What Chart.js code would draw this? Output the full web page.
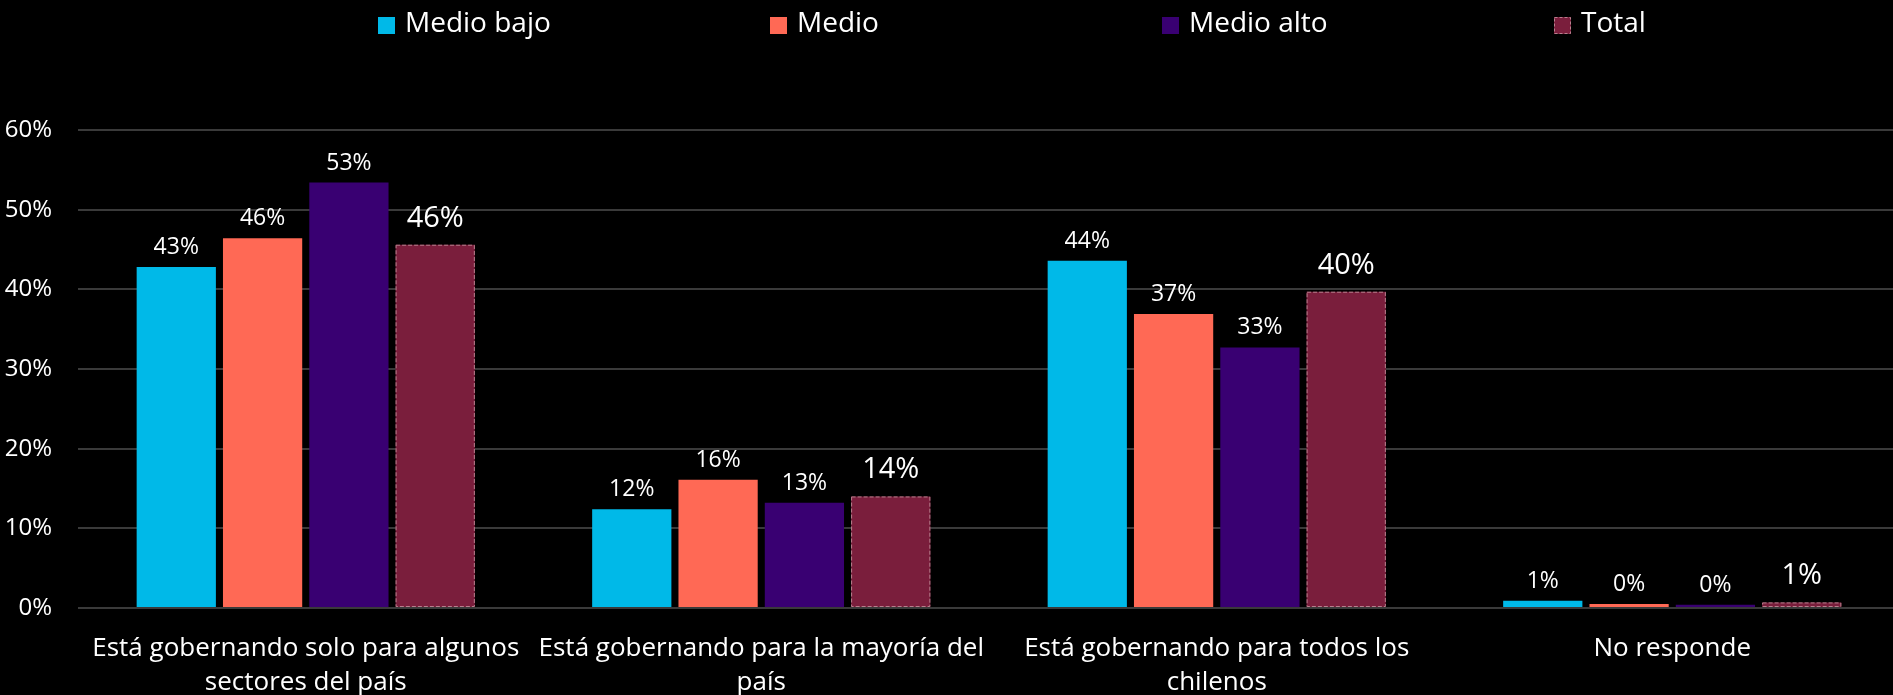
<!DOCTYPE html>
<html>
<head>
<meta charset="utf-8">
<script src="https://cdn.jsdelivr.net/npm/chart.js@4/dist/chart.umd.min.js"></script>
<style>
  html, body { margin: 0; padding: 0; background: #000; overflow: hidden; }
  #wrap { width: 1900px; height: 695px; }
</style>
</head>
<body>
<div id="wrap"><canvas id="chart"></canvas></div>
<script>
const categories = [
  ['Está gobernando solo para algunos', 'sectores del país'],
  ['Está gobernando para la mayoría del', 'país'],
  ['Está gobernando para todos los', 'chilenos'],
  'No responde'
];
const seriesNames = ['Medio bajo', 'Medio', 'Medio alto', 'Total'];
const medioBajo = [42.8, 12.4, 43.6, 0.9];
const medio = [46.4, 16.1, 36.9, 0.5];
const medioAlto = [53.4, 13.2, 32.7, 0.4];
const total = [45.6, 14.0, 39.7, 0.7];
const valueLabels = [
  ['43%', '12%', '44%', '1%'],
  ['46%', '16%', '37%', '0%'],
  ['53%', '13%', '33%', '0%'],
  ['46%', '14%', '40%', '1%']
];
const yTicks = [0, 10, 20, 30, 40, 50, 60];

const colors = ['#00B9E8', '#FF6955', '#390072', '#7A1E3C'];
const FONT = '"Open Sans", "Noto Sans", sans-serif';

// legend drawn in fixed-width slots like the original
const slotLegend = {
  id: 'slotLegend',
  afterDraw(chart) {
    const ctx = chart.ctx;
    const slot = 392;
    const start = 378;
    ctx.save();
    ctx.font = '28px ' + FONT;
    ctx.textBaseline = 'middle';
    chart.data.datasets.forEach((ds, i) => {
      const x = start + i * slot;
      ctx.fillStyle = ds.backgroundColor;
      ctx.fillRect(x, 17, 17, 17);
      if (i === 3) {
        ctx.strokeStyle = '#B8808E';
        ctx.setLineDash([3, 2]);
        ctx.lineWidth = 1;
        ctx.strokeRect(x + 0.5, 17.5, 16, 16);
        ctx.setLineDash([]);
      }
      ctx.fillStyle = '#fff';
      ctx.fillText(ds.label, x + 27, 24);
    });
    ctx.restore();
  }
};

// dashed outline on Total bars + value labels
const barExtras = {
  id: 'barExtras',
  afterDatasetsDraw(chart) {
    const ctx = chart.ctx;
    ctx.save();
    chart.data.datasets.forEach((ds, di) => {
      const meta = chart.getDatasetMeta(di);
      meta.data.forEach((bar, i) => {
        const left = bar.x - bar.width / 2;
        if (di === 3) {
          ctx.strokeStyle = '#B8808E';
          ctx.lineWidth = 1;
          ctx.setLineDash([4, 2]);
          ctx.strokeRect(left + 0.5, bar.y + 0.5, bar.width - 1, bar.base - bar.y - 1);
          ctx.setLineDash([]);
        }
        ctx.fillStyle = '#fff';
        ctx.textAlign = 'center';
        ctx.textBaseline = 'alphabetic';
        ctx.font = (di === 3 ? '29px ' : '23px ') + FONT;
        ctx.fillText(valueLabels[di][i], bar.x, bar.y - (di === 3 ? 18 : 13));
      });
    });
    ctx.restore();
  }
};

const seriesValues = [medioBajo, medio, medioAlto, total];

new Chart(document.getElementById('chart'), {
  type: 'bar',
  data: {
    labels: categories,
    datasets: seriesNames.map((name, i) => ({
      label: name,
      data: seriesValues[i],
      backgroundColor: colors[i],
      borderWidth: 0,
      categoryPercentage: 0.758,
      barPercentage: 0.918
    }))
  },
  options: {
    responsive: true,
    maintainAspectRatio: false,
    animation: false,
    layout: { padding: { top: 130, left: 0, right: 0, bottom: 0 } },
    plugins: {
      legend: { display: false },
      tooltip: { enabled: false }
    },
    scales: {
      x: {
        afterFit(axis) { axis.height = 87; },
        grid: { display: false, drawTicks: false },
        border: { display: false },
        ticks: {
          color: '#fff',
          font: { family: FONT, size: 26, lineHeight: 1.3 },
          maxRotation: 0,
          autoSkip: false,
          padding: 24
        }
      },
      y: {
        min: 0,
        max: 60,
        afterFit(axis) { axis.width = 78; },
        afterBuildTicks(axis) {
          axis.ticks = yTicks.map(v => ({ value: v }));
        },
        grid: { color: '#3A3A3A', lineWidth: 2, drawTicks: false },
        border: { display: false },
        ticks: {
          color: '#fff',
          font: { family: FONT, size: 24 },
          padding: 26,
          callback: v => v + '%'
        }
      }
    }
  },
  plugins: [slotLegend, barExtras]
});
</script>
</body>
</html>
